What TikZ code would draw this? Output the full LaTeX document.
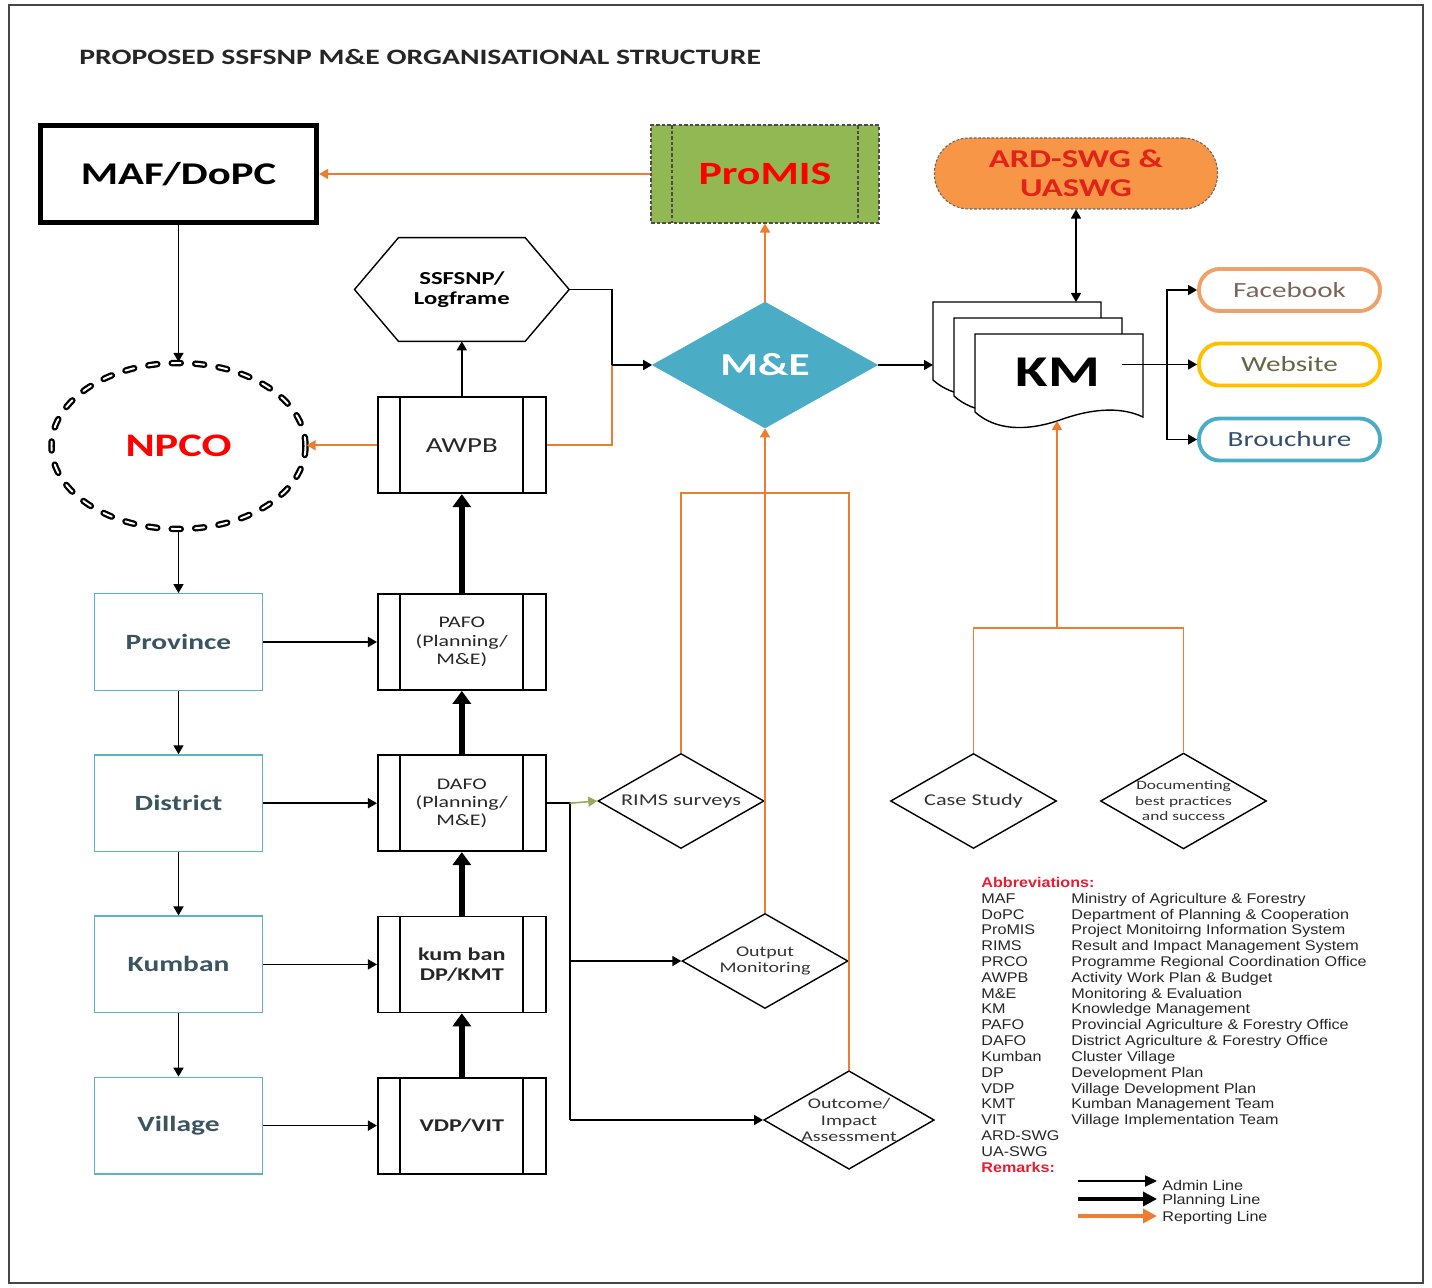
\documentclass[tikz,border=0pt]{standalone}
\usepackage{fontspec}
\setmainfont[FakeStretch=1.35]{Carlito}
\newfontfamily\abbrfont[FakeStretch=1.15]{Liberation Sans}
\usepackage{tikz}
\usetikzlibrary{shapes.geometric, arrows.meta, positioning, calc}

\definecolor{rptorange}{RGB}{237,125,49}
\definecolor{promisgreen}{RGB}{146,184,84}
\definecolor{ardorange}{RGB}{247,150,70}
\definecolor{ardred}{RGB}{225,35,25}
\definecolor{meblue}{RGB}{75,172,198}
\definecolor{lvlteal}{RGB}{92,178,200}
\definecolor{lvltext}{RGB}{58,84,96}
\definecolor{fbedge}{RGB}{240,160,105}
\definecolor{wsedge}{RGB}{255,192,0}
\definecolor{bredge}{RGB}{75,172,198}
\definecolor{fbtext}{RGB}{125,100,90}
\definecolor{wstext}{RGB}{105,100,70}
\definecolor{brtext}{RGB}{50,80,110}
\definecolor{rimsolive}{RGB}{150,170,90}
\definecolor{framegray}{RGB}{70,70,70}
\definecolor{abbrred}{RGB}{230,30,50}

\begin{document}
\begin{tikzpicture}[
  x=0.2mm, y=-0.2mm,
  >={Triangle[length=1.8mm, width=2mm]},
  titlenode/.style={font=\fontsize{12.5}{14}\selectfont\bfseries, text=black!85, inner sep=0pt},
  orgbox/.style={draw, line width=3pt, minimum width=55.2mm, minimum height=19.4mm, font=\fontsize{18}{20}\selectfont\bfseries},
  promisbox/.style={draw=black!70, dash pattern=on 2pt off 1.2pt, line width=0.6pt, fill=promisgreen, minimum width=45.6mm, minimum height=19.6mm, text=red, font=\fontsize{18.5}{20}\selectfont\bfseries,
    path picture={\draw[black!70, dash pattern=on 2pt off 1.2pt, line width=0.6pt]
      ([xshift=4.2mm]path picture bounding box.north west) -- ([xshift=4.2mm]path picture bounding box.south west)
      ([xshift=-4.2mm]path picture bounding box.north east) -- ([xshift=-4.2mm]path picture bounding box.south east);}},
  ardnode/.style={draw=black!60, dash pattern=on 1.5pt off 1pt, line width=0.6pt, fill=ardorange, rounded corners=6.9mm, minimum width=56.6mm, minimum height=14.2mm, text=ardred, align=center, font=\fontsize{14.6}{16.5}\selectfont\bfseries},
  npconode/.style={ellipse, draw, line width=1.3pt, double=white, double distance=1.1pt, dash pattern=on 1.8mm off 2.9mm, line cap=round, minimum width=50.8mm, minimum height=33.2mm, text=red, font=\fontsize{18.7}{20}\selectfont\bfseries},
  lfnode/.style={minimum width=42.8mm, minimum height=20.6mm, align=center, font=\fontsize{10.4}{11.4}\selectfont\bfseries},
  procbox/.style={draw, line width=1pt, minimum width=33.6mm, minimum height=19.2mm, align=center, text=black!85, font=\fontsize{9.2}{10.4}\selectfont,
    path picture={\draw[line width=1pt]
      ([xshift=4.5mm]path picture bounding box.north west) -- ([xshift=4.5mm]path picture bounding box.south west)
      ([xshift=-4.5mm]path picture bounding box.north east) -- ([xshift=-4.5mm]path picture bounding box.south east);}},
  levelbox/.style={draw=lvlteal, line width=0.8pt, minimum width=33.7mm, minimum height=19.3mm, text=lvltext, font=\fontsize{12.4}{14}\selectfont\bfseries},
  menode/.style={diamond, draw=meblue, fill=meblue, aspect=1.8, inner sep=0pt, minimum width=45mm, minimum height=25.2mm, text=white, font=\fontsize{18.2}{20}\selectfont\bfseries},
  checknode/.style={diamond, draw, aspect=1.73, line width=0.8pt, inner sep=0pt, minimum width=33.2mm, minimum height=19mm, align=center, text=black!80},
  pillnode/.style={draw, line width=2.2pt, rounded corners=4.1mm, minimum width=36.2mm, minimum height=8.4mm, font=\fontsize{12.3}{14}\selectfont},
  kmpage/.style={draw, fill=white, line width=0.8pt},
  kmtext/.style={font=\fontsize{25}{27}\selectfont\bfseries},
  abbrtext/.style={font=\abbrfont\fontsize{8}{9}\selectfont, inner sep=0pt, text=black!85},
  legtext/.style={font=\abbrfont\fontsize{8}{9}\selectfont, inner ysep=0pt, inner xsep=1mm, text=black!85},
  flow/.style={->, line width=0.9pt},
  flow2/.style={-{Triangle[length=2.6mm, width=3.6mm]}, line width=3.6pt},
  rflow/.style={->, line width=1pt, rptorange},
  rline/.style={line width=1pt, rptorange}
]
\useasboundingbox (0,0) rectangle (1432,1288);
\draw[framegray, line width=1pt] (9,5) rectangle (1423,1283);

\node[titlenode, anchor=west] (Title) at (79,57) {PROPOSED SSFSNP M\&E ORGANISATIONAL STRUCTURE};

% Top row
\node[orgbox]    (MAF)  at (178.5,174) {MAF/DoPC};
\node[promisbox] (PM)   at (765,174)   {ProMIS};
\node[ardnode]   (ARD)  at (1076,173.5) {ARD-SWG \&\\UASWG};

% NPCO and the admin column
\node[npconode]  (NPCO) at (178.5,446) {NPCO};
\node[levelbox]  (Prov) at (178.5,642) {Province};
\node[levelbox]  (Dist) [below=12.66mm of Prov] {District};
\node[levelbox]  (Kum)  [below=12.66mm of Dist] {Kumban};
\node[levelbox]  (Vil)  [below=12.66mm of Kum]  {Village};

% Planning column
\node[procbox]   (PAFO) [right=22.7mm of Prov] {PAFO\\(Planning/\\M\&E)};
\node[procbox]   (DAFO) [right=22.7mm of Dist] {DAFO\\(Planning/\\M\&E)};
\node[procbox, font=\fontsize{10.2}{11.4}\selectfont\bfseries] (KB)  [right=22.7mm of Kum] {kum ban\\DP/KMT};
\node[procbox, font=\fontsize{10.2}{11.4}\selectfont\bfseries] (VDP) [right=22.7mm of Vil] {VDP/VIT};
\node[procbox, font=\fontsize{12.2}{14}\selectfont] (AWPB) [above=19.8mm of PAFO] {AWPB};
\node[lfnode]    (LF)   [above=11mm of AWPB] {SSFSNP/\\Logframe};
\draw[line width=0.8pt] (LF.west) -- ([xshift=8.8mm]LF.north west) -- ([xshift=-8.8mm]LF.north east)
  -- (LF.east) -- ([xshift=-8.8mm]LF.south east) -- ([xshift=8.8mm]LF.south west) -- cycle;

% M&E and KM
\node[menode]    (ME)   at (765,365) {M\&E};
\draw[kmpage, shift={(933,302)}] (0,0) -- (168,0) -- (168,83) .. controls (145,72) and (115,75) .. (85,86)
  .. controls (50,98) and (20,96) .. (0,78) -- cycle;
\draw[kmpage, shift={(954,318)}] (0,0) -- (168,0) -- (168,83) .. controls (145,72) and (115,75) .. (85,86)
  .. controls (50,98) and (20,96) .. (0,78) -- cycle;
\draw[kmpage, shift={(975,334)}] (0,0) -- (168,0) -- (168,83) .. controls (145,72) and (115,75) .. (85,86)
  .. controls (50,98) and (20,96) .. (0,78) -- cycle;
\node[kmtext]    (KM)   at (1058,372) {KM};
\coordinate (KMtop)  at (1076,302);
\coordinate (KMleft) at (933,365);
\coordinate (KMtap)  at (1122,364.5);
\coordinate (KMbot)  at (1057,421);

% Outlets
\node[pillnode, draw=fbedge, text=fbtext] (FB) at (1289.5,290)   {Facebook};
\node[pillnode, draw=wsedge, text=wstext] (WS) at (1289.5,364.5) {Website};
\node[pillnode, draw=bredge, text=brtext] (BR) at (1289.5,439.5) {Brouchure};
\coordinate (Split) at (1167,364.5);

% Data collection
\node[checknode, font=\fontsize{9.4}{10.4}\selectfont] (RIMS) at (681,801)   {RIMS surveys};
\node[checknode, font=\fontsize{8.4}{9.2}\selectfont]  (OM)   at (765,961)   {Output\\Monitoring};
\node[checknode, font=\fontsize{8.4}{9.4}\selectfont]  (OC)   at (849,1120)  {Outcome/\\Impact\\Assessment};
\node[checknode, font=\fontsize{9.4}{10.4}\selectfont] (CS)   at (973.5,801) {Case Study};
\node[checknode, font=\fontsize{7.3}{8.8}\selectfont]  (DOC)  at (1183.5,801) {Documenting\\best practices\\and success};

% Admin lines
\draw[flow] (MAF.south) -- (NPCO.north);
\draw[flow] (NPCO.south) -- (Prov.north);
\draw[flow] (Prov.south) -- (Dist.north);
\draw[flow] (Dist.south) -- (Kum.north);
\draw[flow] (Kum.south) -- (Vil.north);
\draw[flow] (Prov.east) -- (PAFO.west);
\draw[flow] (Dist.east) -- (DAFO.west);
\draw[flow] (Kum.east) -- (KB.west);
\draw[flow] (Vil.east) -- (VDP.west);
\draw[flow] (AWPB.north) -- (LF.south);

% Planning lines
\draw[flow2] (VDP.north) -- (KB.south);
\draw[flow2] (KB.north) -- (DAFO.south);
\draw[flow2] (DAFO.north) -- (PAFO.south);
\draw[flow2] (PAFO.north) -- (AWPB.south);

% Into M&E
\coordinate (MEin) at (612,365);
\draw[line width=0.9pt] (LF.east) -| (MEin);
\draw[rline] (AWPB.east) -| (MEin);
\draw[flow] (MEin) -- (ME.west);
\draw[rflow] (AWPB.west) -- (AWPB.west -| NPCO.east);
\draw[rflow] (ME.north) -- (PM.south);
\draw[rflow] (PM.west) -- (MAF.east);
\draw[flow] (ME.east) -- (KMleft);
\draw[<->, line width=0.9pt] (ARD.south) -- (KMtop);

% KM outlets
\draw[line width=0.9pt] (KMtap) -- (Split);
\draw[flow] (Split) |- (FB.west);
\draw[flow] (Split) -- (WS.west);
\draw[flow] (Split) |- (BR.west);

% DAFO fork
\coordinate (Fork) at ([xshift=4.6mm]DAFO.east);
\draw[line width=0.9pt] (DAFO.east) -- (Fork) -- (Fork |- OC.west);
\draw[flow, rimsolive] (Fork) -- (RIMS.west);
\draw[flow] (Fork |- OM.west) -- (OM.west);
\draw[flow] (Fork |- OC.west) -- (OC.west);

% Reporting back
\draw[rline] (RIMS.north) -- ++(0,-260) -| (OC.north);
\draw[rflow] (OM.north) -- (ME.south);
\coordinate (CSjoin) at (1057,628);
\draw[rline] (CS.north) |- (CSjoin) -| (DOC.north);
\draw[rflow] (CSjoin) -- (KMbot);

% Abbreviations
\node[abbrtext, anchor=north west] (Abbr) at (981,876) {%
\begin{tabular}{@{}p{18mm}@{}l@{}}
\multicolumn{2}{@{}l@{}}{\textcolor{abbrred}{\bfseries Abbreviations:}}\\
MAF & Ministry of Agriculture \& Forestry\\
DoPC & Department of Planning \& Cooperation\\
ProMIS & Project Monitoirng Information System\\
RIMS & Result and Impact Management System\\
PRCO & Programme Regional Coordination Office\\
AWPB & Activity Work Plan \& Budget\\
M\&E & Monitoring \& Evaluation\\
KM & Knowledge Management\\
PAFO & Provincial Agriculture \& Forestry Office\\
DAFO & District Agriculture \& Forestry Office\\
Kumban & Cluster Village\\
DP & Development Plan\\
VDP & Village Development Plan\\
KMT & Kumban Management Team\\
VIT & Village Implementation Team\\
ARD-SWG & \\
UA-SWG & \\
\multicolumn{2}{@{}l@{}}{\textcolor{abbrred}{\bfseries Remarks:}}
\end{tabular}};

% Legend
\node[legtext, anchor=west] (LgAdmin) at (1157,1185) {Admin Line};
\node[legtext, anchor=west] (LgPlan)  at (1157,1201) {Planning Line};
\node[legtext, anchor=west] (LgRep)   at (1157,1218) {Reporting Line};
\coordinate (LgA0) at (1078,1181);
\coordinate (LgP0) at (1078,1199);
\coordinate (LgR0) at (1078,1216);
\draw[-{Triangle[length=2.4mm, width=2.2mm]}, line width=1pt] (LgA0) -- (LgA0 -| LgAdmin.west);
\draw[-{Triangle[length=2.8mm, width=2.8mm]}, line width=2.4pt] (LgP0) -- (LgP0 -| LgPlan.west);
\draw[-{Triangle[length=2.8mm, width=2.8mm]}, line width=2.2pt, rptorange] (LgR0) -- (LgR0 -| LgRep.west);
\end{tikzpicture}
\end{document}
